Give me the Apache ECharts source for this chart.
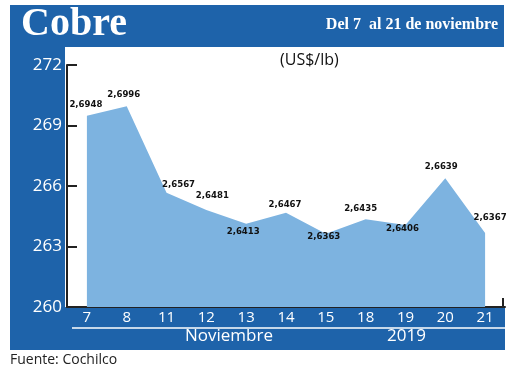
<!DOCTYPE html>
<html><head><meta charset="utf-8">
<style>html,body{margin:0;padding:0;background:#fff}#c{width:520px;height:373px}</style>
<script src="https://cdn.jsdelivr.net/npm/echarts@6/dist/echarts.min.js"></script>
</head><body><div id="c"></div>
<script>
const categories = ['7','8','11','12','13','14','15','18','19','20','21'];
const values = [269.48, 269.96, 265.67, 264.81, 264.13, 264.67, 263.63, 264.35, 264.06, 266.39, 263.67];
const labels = ['2,6948','2,6996','2,6567','2,6481','2,6413','2,6467','2,6363','2,6435','2,6406','2,6639','2,6367'];
const labelPos = ['top','top','top','top','bottom','top','bottom','top','bottom','top','top'];
const labelOffset = [[-1,0],[-3,-1],[12,3],[6,-3],[-3,-3],[-1,3],[-2,-8],[-5,0],[-3,-8],[-4,-1],[5,-4]];
const yTicks = [260, 263, 266, 269, 272];

const BLUE = '#1e63aa';
const chart = echarts.init(document.getElementById('c'));
const data = values.map((v, i) => ({
  value: v,
  label: {show: true, position: labelPos[i], formatter: labels[i], offset: labelOffset[i]}
}));
chart.setOption({
  animation: false,
  graphic: [
    {type: 'rect', shape: {x: 10, y: 5, width: 494, height: 42}, style: {fill: BLUE}, z: 0},
    {type: 'rect', shape: {x: 10, y: 47, width: 55, height: 303}, style: {fill: BLUE}, z: 0},
    {type: 'rect', shape: {x: 10, y: 307, width: 495, height: 43}, style: {fill: BLUE}, z: 0},
    {type: 'line', shape: {x1: 72, y1: 328, x2: 505, y2: 328}, style: {stroke: '#fff', lineWidth: 1.5}, z: 1},
    {type: 'line', shape: {x1: 503, y1: 298, x2: 503, y2: 307}, style: {stroke: '#222', lineWidth: 2}, z: 5},
    {type: 'text', left: 21, top: 5, style: {text: 'Cobre', fill: '#fff', font: 'bold 40px "Liberation Serif"'}, z: 2},
    {type: 'text', right: 22, top: 17, style: {text: 'Del 7  al 21 de noviembre', fill: '#fff', font: 'bold 16px "Liberation Serif"'}, z: 2},
    {type: 'text', left: 280, top: 52, style: {text: '(US$/lb)', fill: '#111', font: '16px "Open Sans"', textAlign: 'center'}, z: 2},
    {type: 'text', left: 185, top: 328, style: {text: 'Noviembre', fill: '#fff', font: '17px "Open Sans"', textAlign: 'center'}, z: 2},
    {type: 'text', left: 387, top: 328, style: {text: '2019', fill: '#fff', font: '17px "Open Sans"', textAlign: 'center'}, z: 2},
    {type: 'text', left: 10, top: 353, style: {text: 'Fuente: Cochilco', fill: '#222', font: '14px "Open Sans"'}, z: 2}
  ],
  grid: {left: 67, right: 15, top: 65, bottom: 66},
  xAxis: {
    type: 'category', data: categories, boundaryGap: true,
    axisLine: {lineStyle: {color: '#222', width: 2}},
    axisTick: {show: false},
    axisLabel: {color: '#fff', fontSize: 15, fontFamily: 'Open Sans', margin: 3}
  },
  yAxis: {
    type: 'value', min: 260, max: 272, interval: 3,
    axisLine: {show: true, lineStyle: {color: '#222', width: 2}},
    axisTick: {show: true, inside: true, length: 10, lineStyle: {color: '#222', width: 2}},
    splitLine: {show: false},
    axisLabel: {color: '#fff', fontSize: 17, fontFamily: 'Open Sans', margin: 5,
      formatter: v => yTicks.includes(v) ? String(v) : ''}
  },
  series: [{
    type: 'line', data: data, symbol: 'circle', symbolSize: 2, showSymbol: true,
    itemStyle: {color: 'rgba(125,179,224,0)'},
    lineStyle: {width: 0},
    areaStyle: {color: '#7db3e0', opacity: 1},
    z: 3,
    label: {show: true, color: '#111', fontSize: 9.5, fontWeight: 'bold', fontFamily: 'DejaVu Sans Condensed', distance: 5}
  }]
});
</script></body></html>
